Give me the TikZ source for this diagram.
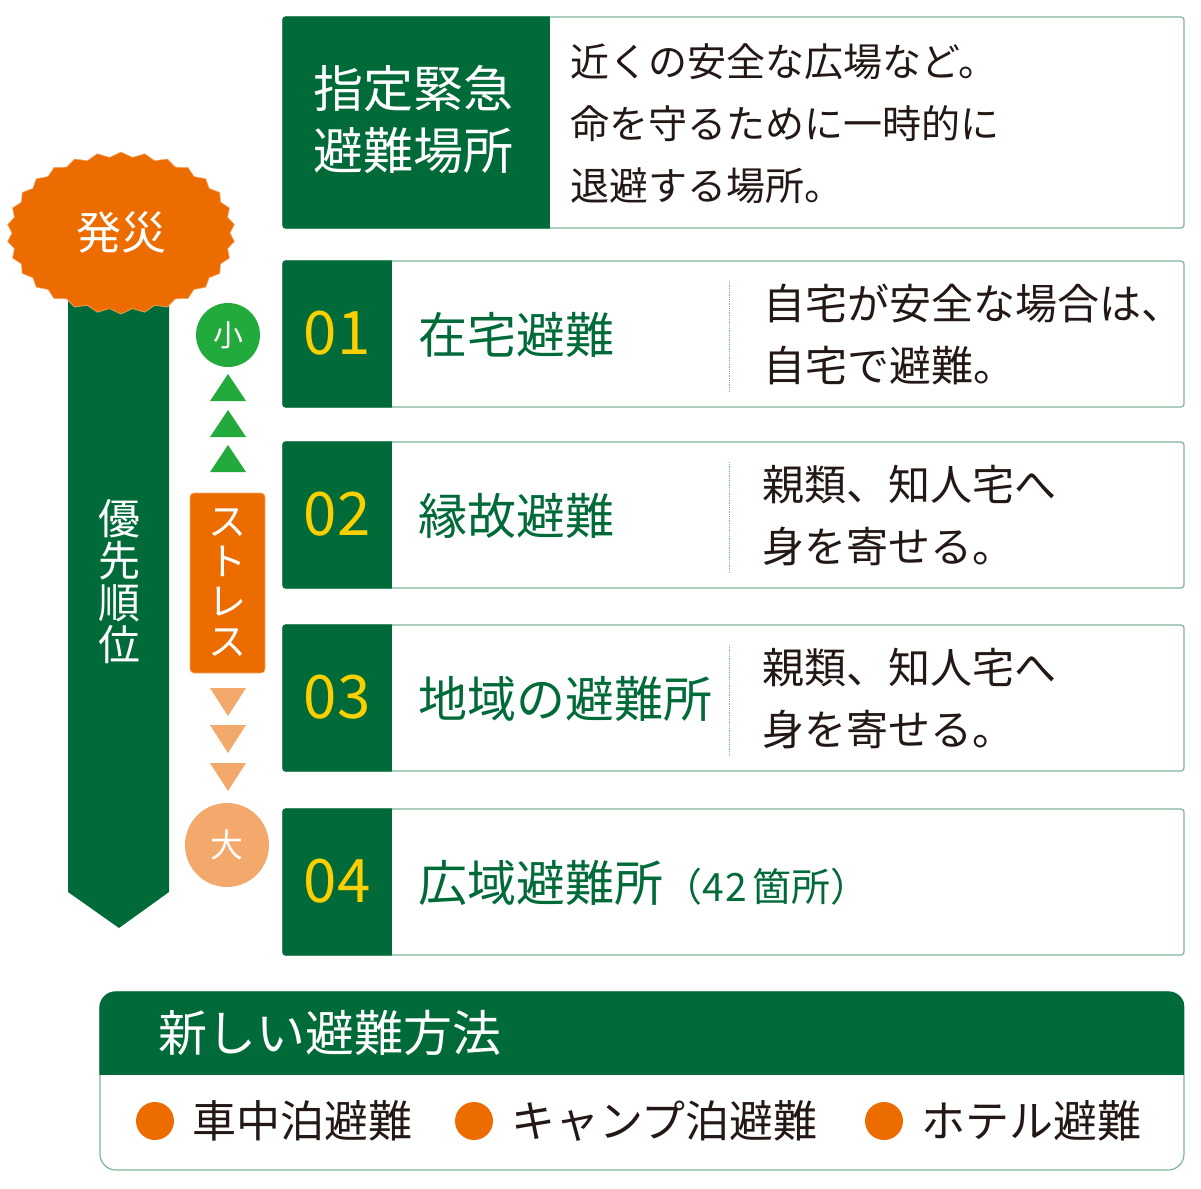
\documentclass[tikz,border=0pt]{standalone}
\usepackage{fontspec}
\setmainfont{Noto Sans CJK JP}
\usepackage{tikz}
\usetikzlibrary{shapes.symbols}
\definecolor{dgreen}{HTML}{006B38}
\definecolor{lgreen}{HTML}{22AA3C}
\definecolor{frame}{HTML}{7DB597}
\definecolor{fire}{HTML}{EC6C00}
\definecolor{peach}{HTML}{F3A96B}
\definecolor{ink}{HTML}{231815}
\definecolor{gold}{HTML}{FCD000}
\newcommand{\fsz}[1]{\fontsize{#1}{#1}\selectfont}

\begin{document}
\begin{tikzpicture}[x=1pt,y=-1pt,
  every node/.style={inner sep=0pt},
  box/.style={draw=frame,line width=1.2pt,rounded corners=3pt},
  numtxt/.style={text=gold,font=\fsz{60}},
  lab/.style={anchor=west,text=dgreen,font=\fsz{49}},
  desc/.style={anchor=west,align=left,text=ink,font=\fontsize{42}{62}\selectfont},
  sep/.style={draw=frame,densely dotted,line width=0.8pt},
  dot/.style={circle,fill=fire,minimum size=38pt},
  way/.style={anchor=west,text=ink,font=\fsz{44}}
]
\useasboundingbox (0,0) rectangle (1201,1188);

% priority arrow + disaster burst
\fill[dgreen] (68,280) -- (169,280) -- (169,892) -- (119,928) -- (68,892) -- cycle;
\node[align=center,text=white,font=\fontsize{42}{42}\selectfont] (prio) at (119,582) {優\\先\\順\\位};
\node[starburst,starburst points=30,starburst point height=5pt,random starburst=0,
  fill=fire,draw=peach,line width=0.6pt,minimum width=228pt,minimum height=162pt,
  text=white,font=\fsz{45}] (hassai) at (121,233) {発災};

% stress scale
\node[circle,fill=lgreen,minimum size=64pt,text=white,font=\fsz{30}] (small) at (228,335) {小};
\foreach \y in {374,410,445} \fill[lgreen] (210,{\y+27}) -- (228,\y) -- (246,{\y+27}) -- cycle;
\node[fill=fire,draw=peach,line width=0.6pt,rounded corners=4pt,minimum width=75pt,minimum height=180pt,
  text=white,align=center,font=\fontsize{38}{40}\selectfont] (stress) at (227.5,583) {ス\\ト\\レ\\ス};
\foreach \y in {688,725,763} \fill[peach] (210,\y) -- (228,{\y+28}) -- (246,\y) -- cycle;
\node[circle,fill=peach,minimum size=84pt,text=white,font=\fsz{33}] (large) at (227,845) {大};

% designated emergency place
\draw[box] (283,17) rectangle (1184,228);
\begin{scope}
  \clip[rounded corners=3pt] (282.4,16.4) rectangle (1184.6,228.6);
  \fill[dgreen] (282.4,16.4) rectangle (550,228.6);
\end{scope}
\node[align=center,text=white,font=\fontsize{50}{62}\selectfont] (shitei) at (413,120) {指定緊急\\避難場所};
\node[desc,font=\fontsize{39}{62}\selectfont] (shiteid) at (570,124) {近くの安全な広場など。\\命を守るために一時的に\\退避する場所。};

% evacuation options
\foreach \y/\n/\lbl in {261/01/在宅避難,442/02/縁故避難,625/03/地域の避難所,809/04/{広域避難所{\fsz{39}（4\kern2pt2\kern5pt箇所）}}} {
  \draw[box] (283,\y) rectangle (1184,{\y+146});
  \begin{scope}
    \clip[rounded corners=3pt] (282.4,{\y-0.6}) rectangle (1184.6,{\y+146.6});
    \fill[dgreen] (282.4,{\y-0.6}) rectangle (392,{\y+146.6});
  \end{scope}
  \node[numtxt] (num\n) at (337,{\y+72}) {\n};
  \node[lab] (lab\n) at (418,{\y+74}) {\lbl};
}
\foreach \y in {261,442,625} \draw[sep] (729,{\y+20}) -- (729,{\y+130});
\node[desc] (desc01) at (763,334) {自宅が安全な場合は、\\自宅で避難。};
\node[desc] (desc02) at (762,516) {親類、知人宅へ\\身を寄せる。};
\node[desc] (desc03) at (762,699) {親類、知人宅へ\\身を寄せる。};

% new methods
\draw[box,rounded corners=16pt] (100,992) rectangle (1184,1170);
\begin{scope}
  \clip[rounded corners=16pt] (99.4,991.4) rectangle (1184.6,1170.6);
  \fill[dgreen] (99.4,991.4) rectangle (1184.6,1075);
\end{scope}
\node[anchor=west,text=white,font=\fsz{49}] (newways) at (158,1033) {新しい避難方法};
\foreach \x/\w/\lbl in {155/a/車中泊避難,474/b/キャンプ泊避難,884/c/ホテル避難} {
  \node[dot] (dot\w) at (\x,1121) {};
  \node[way] (way\w) at ({\x+37},1121) {\lbl};
}
\end{tikzpicture}
\end{document}
